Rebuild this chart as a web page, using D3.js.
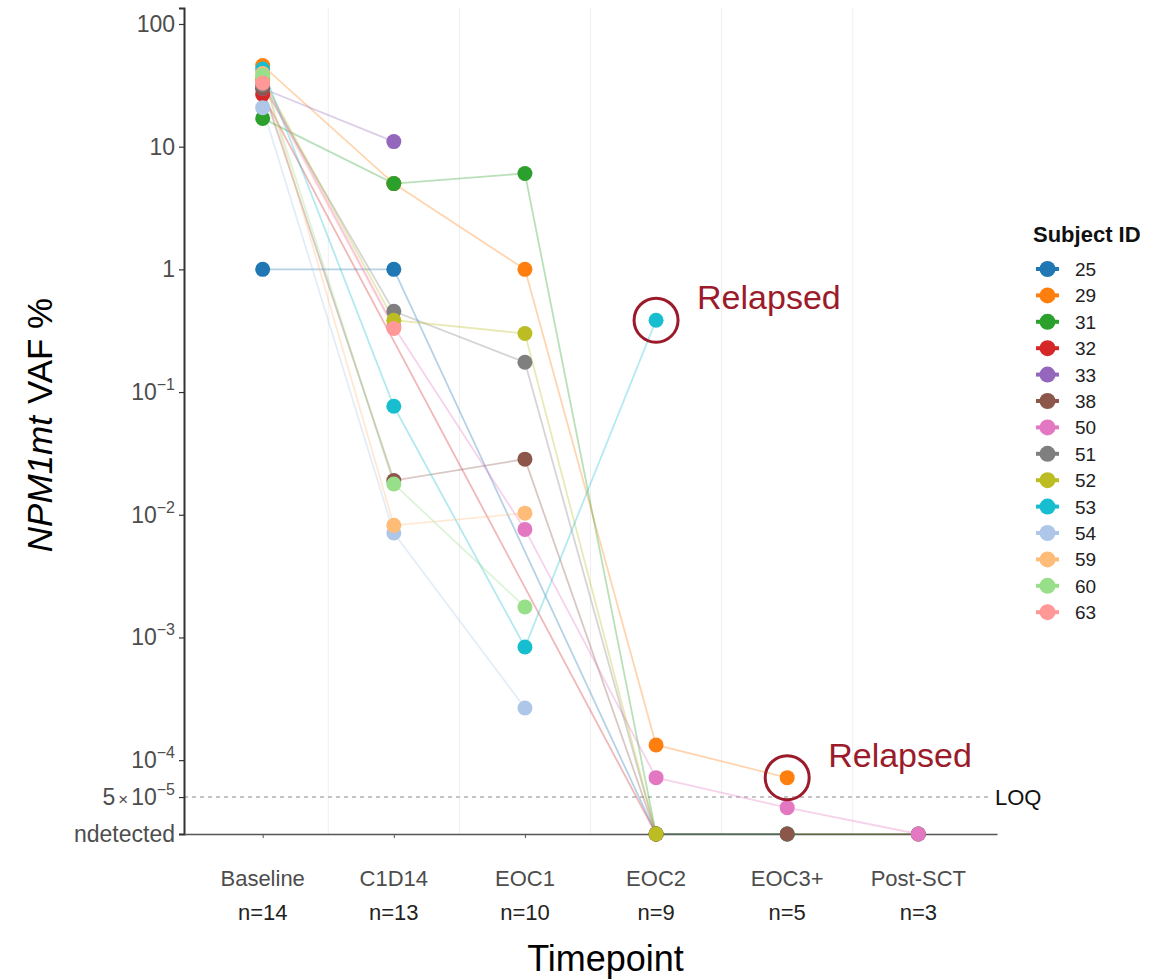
<!DOCTYPE html>
<html>
<head>
<meta charset="utf-8">
<script src="https://cdn.jsdelivr.net/npm/d3@7"></script>
<style>
  body { margin: 0; background: #fff; }
  text { font-family: "Liberation Sans", Arial, sans-serif; }
</style>
</head>
<body>
<svg id="chart" width="1175" height="980"></svg>
<script>
// timepoints on the x axis
const timepoints = ['Baseline', 'C1D14', 'EOC1', 'EOC2', 'EOC3+', 'Post-SCT'];
const counts = ['n=14', 'n=13', 'n=10', 'n=9', 'n=5', 'n=3'];

// subjects and their colours
const subjects = ['25', '29', '31', '32', '33', '38', '50', '51', '52', '53', '54', '59', '60', '63'];
const colors = ['#1f77b4', '#ff7f0e', '#2ca02c', '#d62728', '#9467bd', '#8c564b', '#e377c2',
  '#7f7f7f', '#bcbd22', '#17becf', '#aec7e8', '#ffbb78', '#98df8a', '#ff9896'];

// VAF % per subject and timepoint; 0 = undetected, null = no sample
const UND = 0;
const vaf25 = [1, 1, null, UND, UND, null];
const vaf29 = [45.8, 5, 1, 1.33e-4, 7.2e-5, null];
const vaf31 = [17, 5, 6.05, UND, UND, UND];
const vaf32 = [26.6, null, null, UND, null, null];
const vaf33 = [29.8, 11, null, null, null, null];
const vaf38 = [30, 0.019, 0.0284, UND, UND, UND];
const vaf50 = [35, 0.34, 0.0076, 7.2e-5, 4.1e-5, UND];
const vaf51 = [32, 0.455, 0.175, UND, null, null];
const vaf52 = [36, 0.385, 0.30, UND, null, null];
const vaf53 = [43, 0.0766, 0.000835, 0.385, null, null];
const vaf54 = [20.8, 0.0071, 0.000266, null, null, null];
const vaf59 = [39.5, 0.0082, 0.0103, null, null, null];
const vaf60 = [38, 0.0178, 0.00177, null, null, null];
const vaf63 = [33, 0.33, null, null, null, null];
const series = [vaf25, vaf29, vaf31, vaf32, vaf33, vaf38, vaf50, vaf51, vaf52, vaf53, vaf54, vaf59, vaf60, vaf63];

// y ticks
const undetectedPos = 2.5e-5;
const yTicks = [100, 10, 1, 1e-1, 1e-2, 1e-3, 1e-4, 5e-5, undetectedPos];
const LOQ = 5e-5;

// relapsed annotations: [subject, timepoint]
const relapses = [['53', 'EOC2'], ['29', 'EOC3+']];

const svg = d3.select('#chart');
const plotLeft = 184, plotRight = 997, plotTop = 8, plotBottom = 834;

const x = d3.scalePoint().domain(timepoints).range([plotLeft, plotRight]).padding(0.6);
const y = d3.scaleLog().domain([undetectedPos, 135]).range([plotBottom, plotTop]);
const val = v => (v === UND ? undetectedPos : v);

// vertical minor grid between categories
const mids = d3.range(timepoints.length - 1).map(i => (x(timepoints[i]) + x(timepoints[i + 1])) / 2);
svg.append('g').selectAll('line').data(mids).join('line')
  .attr('x1', d => d).attr('x2', d => d)
  .attr('y1', plotTop).attr('y2', plotBottom)
  .attr('stroke', '#efefef').attr('stroke-width', 1);

// LOQ line
svg.append('line')
  .attr('x1', plotLeft).attr('x2', plotRight - 5)
  .attr('y1', y(LOQ)).attr('y2', y(LOQ))
  .attr('stroke', '#b3b3b3').attr('stroke-width', 1.5)
  .attr('stroke-dasharray', '4,4');
svg.append('text')
  .attr('x', plotRight - 2).attr('y', y(LOQ) + 8)
  .attr('font-size', 22).attr('fill', '#111')
  .text('LOQ');

// axes
const yAxis = svg.append('g').attr('transform', `translate(${plotLeft},0)`)
  .call(d3.axisLeft(y).tickValues(yTicks).tickSize(5).tickFormat(''));
yAxis.select('.domain').attr('stroke', '#333').attr('stroke-width', 2);
yAxis.selectAll('.tick line').attr('stroke', '#333').attr('stroke-width', 1.2);

const xAxis = svg.append('g').attr('transform', `translate(0,${plotBottom})`)
  .call(d3.axisBottom(x).tickSize(4).tickSizeOuter(0).tickFormat(''));
xAxis.select('.domain').attr('stroke', '#555').attr('stroke-width', 1.5);
xAxis.selectAll('.tick line').attr('stroke', '#555');

// y tick labels with superscripts
const yLab = svg.append('g');
yTicks.forEach(t => {
  const tx = yLab.append('text')
    .attr('x', plotLeft - 9).attr('y', y(t) + 8)
    .attr('text-anchor', 'end').attr('font-size', 23).attr('fill', '#4d4d4d');
  if (t === undetectedPos) {
    tx.text('ndetected');
  } else if (t >= 1) {
    tx.text(String(t));
  } else if (t === 5e-5) {
    tx.append('tspan').text('5');
    tx.append('tspan').attr('font-size', 17).attr('dx', 3).text('×');
    tx.append('tspan').attr('dx', 3).text('10');
    tx.append('tspan').attr('font-size', 16).attr('dy', -10).text('−5');
  } else {
    tx.append('tspan').text('10');
    tx.append('tspan').attr('font-size', 16).attr('dy', -10).text('−' + Math.round(-Math.log10(t)));
  }
});

// x tick labels
timepoints.forEach((tp, i) => {
  svg.append('text').attr('x', x(tp)).attr('y', 886)
    .attr('text-anchor', 'middle').attr('font-size', 22).attr('fill', '#4d4d4d').text(tp);
  svg.append('text').attr('x', x(tp)).attr('y', 920)
    .attr('text-anchor', 'middle').attr('font-size', 22).attr('fill', '#222').text(counts[i]);
});

// axis titles
svg.append('text').attr('x', (plotLeft + plotRight) / 2 + 15).attr('y', 971)
  .attr('text-anchor', 'middle').attr('font-size', 36).attr('fill', '#000').text('Timepoint');

const yt = svg.append('text')
  .attr('transform', `translate(52,425) rotate(-90)`)
  .attr('text-anchor', 'middle').attr('font-size', 35).attr('fill', '#000');
yt.append('tspan').attr('font-style', 'italic').text('NPM1mt');
yt.append('tspan').attr('dx', 12).text('VAF %');

// lines then points
const line = d3.line().x(d => x(d.t)).y(d => y(val(d.v)));
const pts = series.map((s, i) => s.map((v, j) => ({ t: timepoints[j], v: v, id: subjects[i], c: colors[i] }))
  .filter(d => d.v !== null));

svg.append('g').selectAll('path').data(pts).join('path')
  .attr('d', line)
  .attr('fill', 'none')
  .attr('stroke', (d, i) => colors[i])
  .attr('stroke-width', 1.8)
  .attr('stroke-opacity', 0.33);

svg.append('g').selectAll('g').data(pts).join('g')
  .selectAll('circle').data(d => d).join('circle')
  .attr('cx', d => x(d.t)).attr('cy', d => y(val(d.v)))
  .attr('r', 7.5).attr('fill', d => d.c);

// relapsed annotations
const relColor = '#9b1b2a';
relapses.forEach(([id, tp]) => {
  const v = series[subjects.indexOf(id)][timepoints.indexOf(tp)];
  const cx = x(tp), cy = y(val(v));
  svg.append('circle').attr('cx', cx).attr('cy', cy).attr('r', 22)
    .attr('fill', 'none').attr('stroke', relColor).attr('stroke-width', 3);
  svg.append('text').attr('x', cx + 41).attr('y', cy - 11)
    .attr('font-size', 34).attr('fill', relColor).text('Relapsed');
});

// legend
const lg = svg.append('g').attr('transform', 'translate(1035,0)');
lg.append('text').attr('x', -2).attr('y', 242)
  .attr('font-size', 22).attr('font-weight', 'bold').attr('fill', '#111').text('Subject ID');
subjects.forEach((s, i) => {
  const cy = 269 + i * 26.4;
  lg.append('line').attr('x1', 1).attr('x2', 24).attr('y1', cy).attr('y2', cy)
    .attr('stroke', colors[i]).attr('stroke-width', 4);
  lg.append('circle').attr('cx', 12.5).attr('cy', cy).attr('r', 8).attr('fill', colors[i]);
  lg.append('text').attr('x', 40).attr('y', cy + 7)
    .attr('font-size', 19).attr('fill', '#222').text(s);
});
</script>
</body>
</html>
